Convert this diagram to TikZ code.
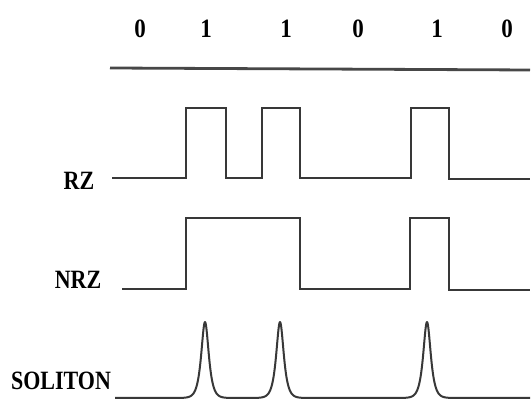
\documentclass[tikz,border=0pt]{standalone}
\usepackage{fontspec}
\setmainfont{Liberation Serif}
\begin{document}
\begin{tikzpicture}[x=1pt,y=-1pt,
  lab/.style={font=\bfseries\fontsize{22}{22}\selectfont, yscale=1.2, inner sep=0pt},
  dig/.style={font=\bfseries\fontsize{23}{23}\selectfont, yscale=1.15, inner sep=0pt},
  wave/.style={line width=2pt, draw=black!78, line join=miter},
  topline/.style={line width=2.8pt, draw=black!72}]
\useasboundingbox[fill=white] (0,0) rectangle (531,411);
% bit labels
\node[dig] (b1) at (140,29) {0};
\node[dig] (b2) at (206,29) {1};
\node[dig] (b3) at (286,29) {1};
\node[dig] (b4) at (358,29) {0};
\node[dig] (b5) at (437,29) {1};
\node[dig] (b6) at (507,29) {0};
% top line
\coordinate (tl1) at (110,68);
\coordinate (tl2) at (530,70);
\draw[topline] (tl1) -- (tl2);
% labels
\node[lab] (rz) at (79,181) {RZ};
\node[lab] (nrz) at (78,280) {NRZ};
\node[lab] (sol) at (61,381) {SOLITON};
% RZ
\draw[wave] (112,178) -- (186,178) -- (186,108) -- (226,108) -- (226,178) -- (262,178)
  -- (262,108) -- (300,108) -- (300,178) -- (411,178) -- (411,108) -- (449,108)
  -- (449,179) -- (530,179);
% NRZ
\draw[wave] (122,289) -- (186,289) -- (186,218) -- (300,218) -- (300,289) -- (410,289)
  -- (410,218) -- (449,218) -- (449,290) -- (530,290);
% Soliton
\draw[wave, line join=round] (115,398) -- (183,398)
  plot[domain=183:227, samples=150, smooth] (\x, {398-76*(1/cosh((\x-205)/3.3))})
  -- (258,398)
  plot[domain=258:302, samples=150, smooth] (\x, {398-76*(1/cosh((\x-280)/3.3))})
  -- (405,398)
  plot[domain=405:449, samples=150, smooth] (\x, {398-76*(1/cosh((\x-427)/3.3))})
  -- (530,398);
\end{tikzpicture}
\end{document}
